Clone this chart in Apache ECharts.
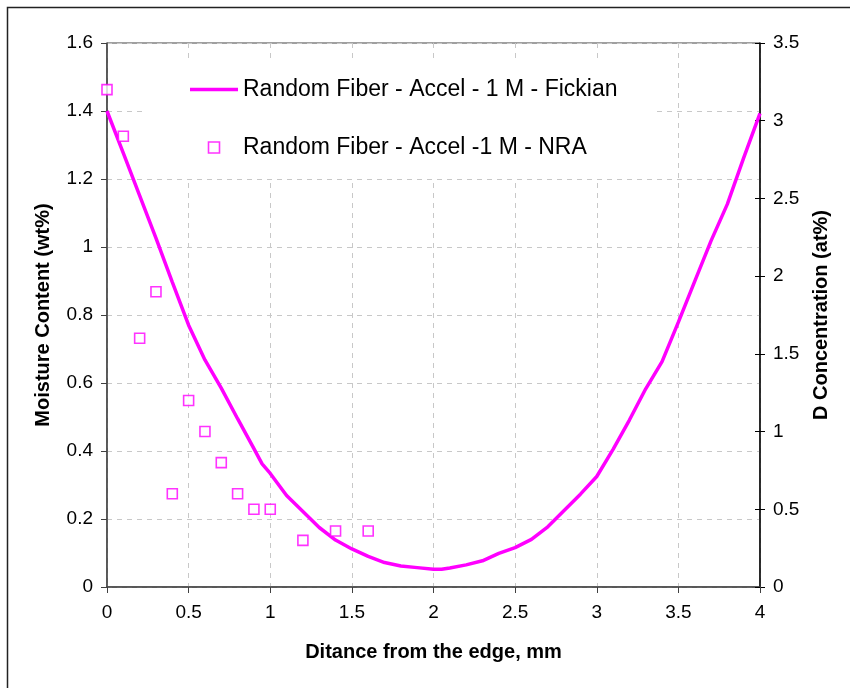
<!DOCTYPE html>
<html>
<head>
<meta charset="utf-8">
<script src="https://cdn.jsdelivr.net/npm/echarts@6/dist/echarts.min.js"></script>
<style>
  html, body { margin: 0; padding: 0; background: #fff; }
  #chart { width: 850px; height: 688px; }
</style>
</head>
<body>
<div id="chart"></div>
<script>
// Fickian model profile (moisture content, wt%)
const fickX = [0, 0.1, 0.2, 0.3, 0.4, 0.5, 0.6, 0.7, 0.8, 0.9, 0.95, 1.0, 1.1, 1.2, 1.3, 1.4, 1.5, 1.6, 1.7, 1.8, 1.9, 2.0, 2.05, 2.1, 2.2, 2.3, 2.4, 2.5, 2.6, 2.7, 2.8, 2.9, 3.0, 3.1, 3.2, 3.3, 3.4, 3.5, 3.6, 3.7, 3.8, 3.9, 4.0];
const fickY = [1.40, 1.276, 1.151, 1.026, 0.897, 0.77, 0.668, 0.585, 0.495, 0.407, 0.362, 0.334, 0.269, 0.222, 0.175, 0.138, 0.112, 0.09, 0.072, 0.062, 0.057, 0.052, 0.052, 0.056, 0.065, 0.077, 0.099, 0.116, 0.14, 0.177, 0.225, 0.273, 0.325, 0.405, 0.491, 0.583, 0.663, 0.779, 0.899, 1.018, 1.126, 1.262, 1.393];

// NRA measurements (D concentration, at%)
const nraX = [0, 0.1, 0.2, 0.3, 0.4, 0.5, 0.6, 0.7, 0.8, 0.9, 1.0, 1.2, 1.4, 1.6];
const nraY = [3.2, 2.9, 1.6, 1.9, 0.6, 1.2, 1.0, 0.8, 0.6, 0.5, 0.5, 0.3, 0.36, 0.36];

const fickName = 'Random Fiber - Accel - 1 M - Fickian';
const nraName = 'Random Fiber - Accel -1 M - NRA';

const FONT = '"Liberation Sans", Arial, sans-serif';
const MAGENTA = '#FF00FF';

const chart = echarts.init(document.getElementById('chart'), null, { renderer: 'canvas' });

const gridDash = { color: '#c8c8c8', width: 1, type: [5, 5] };
const titleStyle = { fontFamily: FONT, fontSize: 20, fontWeight: 'bold', color: '#000' };

chart.setOption({
  animation: false,
  backgroundColor: '#ffffff',
  textStyle: { fontFamily: FONT },
  graphic: [{
    type: 'rect',
    shape: { x: 7.5, y: 7.5, width: 900, height: 800 },
    style: { fill: 'none', stroke: '#222', lineWidth: 1.5 },
    silent: true
  }],
  grid: {
    left: 107, right: 90, top: 43, bottom: 101,
    show: true, borderColor: '#404040', borderWidth: 1, backgroundColor: 'transparent'
  },
  legend: {
    orient: 'vertical',
    left: 145, top: 63,
    backgroundColor: '#ffffff',
    padding: [15, 39, 20, 45],
    itemWidth: 48, itemHeight: 11, itemGap: 35,
    symbolKeepAspect: true,
    textStyle: { fontFamily: FONT, fontSize: 23, color: '#000' },
    data: [
      { name: fickName, icon: 'path://M0,0 L48,0 L48,3.5 L0,3.5 Z',
        itemStyle: { color: MAGENTA, borderWidth: 0 } },
      { name: nraName, icon: 'path://M0,0 L10,0 L10,10 L0,10 Z',
        itemStyle: { color: '#ffffff', borderColor: MAGENTA, borderWidth: 1.6 } }
    ]
  },
  xAxis: {
    type: 'value', min: 0, max: 4, interval: 0.5,
    name: 'Ditance from the edge, mm', nameLocation: 'middle', nameGap: 55,
    nameTextStyle: titleStyle,
    axisLine: { show: true, lineStyle: { color: '#404040', width: 1.5 } },
    axisTick: { show: true, inside: false, length: 6, lineStyle: { color: '#404040' } },
    axisLabel: { fontFamily: FONT, fontSize: 19, color: '#000', margin: 16 },
    splitLine: { show: true, lineStyle: gridDash }
  },
  yAxis: [{
    type: 'value', position: 'left', min: 0, max: 1.6, interval: 0.2,
    name: 'Moisture Content (wt%)', nameLocation: 'middle', nameGap: 54,
    nameTextStyle: titleStyle,
    axisLine: { show: true, lineStyle: { color: '#404040', width: 1.5 } },
    axisTick: { show: true, inside: false, length: 6, lineStyle: { color: '#404040' } },
    axisLabel: { fontFamily: FONT, fontSize: 19, color: '#000', margin: 14 },
    splitLine: { show: true, lineStyle: gridDash }
  }, {
    type: 'value', position: 'right', min: 0, max: 3.5, interval: 0.5,
    name: 'D Concentration (at%)', nameLocation: 'middle', nameGap: 51, nameRotate: 90,
    nameTextStyle: titleStyle,
    axisLine: { show: true, lineStyle: { color: '#000', width: 1.5 } },
    axisTick: { show: true, inside: false, length: 5, lineStyle: { color: '#000' } },
    axisLabel: { fontFamily: FONT, fontSize: 19, color: '#000', margin: 13 },
    splitLine: { show: false }
  }, {
    // inner half of the crossing ticks on the right axis
    type: 'value', position: 'right', min: 0, max: 3.5, interval: 0.5,
    axisLine: { show: false },
    axisTick: { show: true, inside: true, length: 5, lineStyle: { color: '#000' } },
    axisLabel: { show: false },
    splitLine: { show: false }
  }],
  series: [{
    name: fickName,
    type: 'line',
    xAxisIndex: 0, yAxisIndex: 0,
    showSymbol: false, symbol: 'none',
    lineStyle: { color: MAGENTA, width: 3.5 },
    itemStyle: { color: MAGENTA },
    data: fickX.map((x, i) => [x, fickY[i]]),
    z: 3
  }, {
    name: nraName,
    type: 'scatter',
    xAxisIndex: 0, yAxisIndex: 1,
    symbol: 'rect', symbolSize: 10,
    itemStyle: { color: '#ffffff', borderColor: MAGENTA, borderWidth: 1.6 },
    data: nraX.map((x, i) => [x, nraY[i]]),
    z: 4
  }]
});
</script>
</body>
</html>
